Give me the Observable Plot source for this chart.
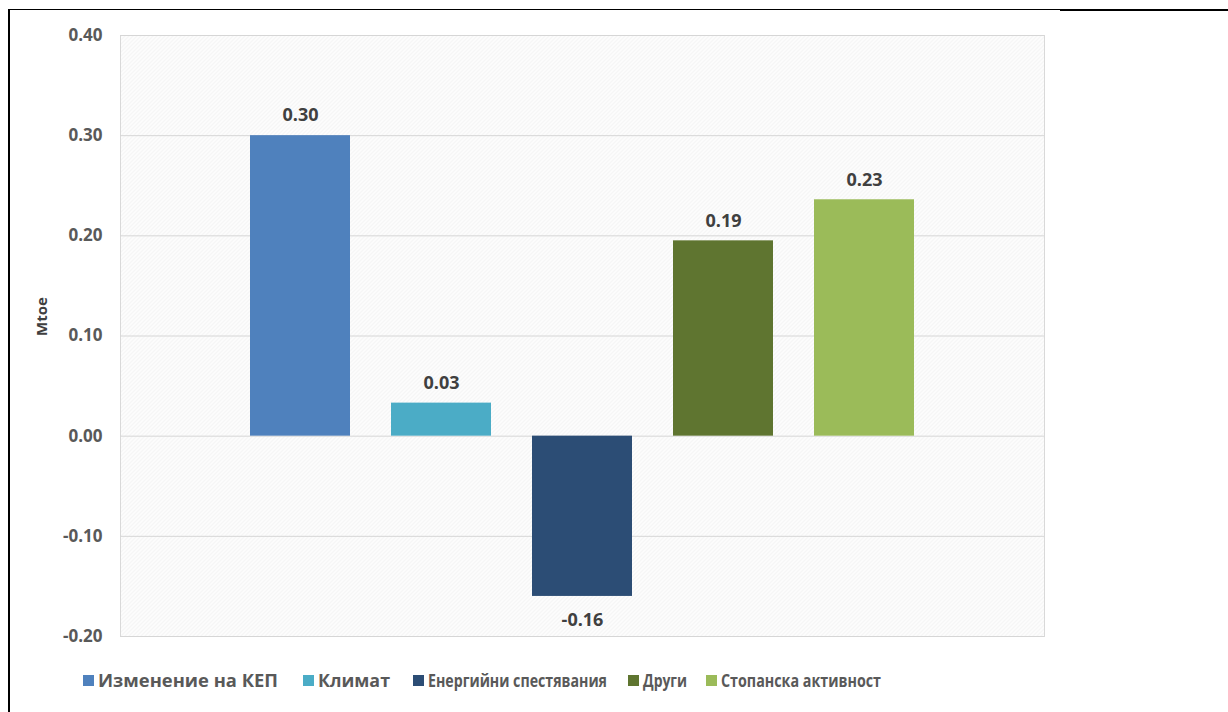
<!DOCTYPE html>
<html>
<head>
<meta charset="utf-8">
<script src="https://cdn.jsdelivr.net/npm/d3@7"></script>
<script src="https://cdn.jsdelivr.net/npm/@observablehq/plot@0.6"></script>
<style>
  html, body { margin: 0; padding: 0; background: #fff; }
  #wrap { position: relative; width: 1228px; height: 712px; overflow: hidden; font-family: "Open Sans", sans-serif; }
  #chart { position: absolute; left: 0; top: 0; }
  #legend { position: absolute; left: 0; top: 655px; }
  .line-top1 { position: absolute; left: 8px; top: 9px; width: 1052px; height: 1px; background: #000; }
  .line-top2 { position: absolute; left: 1060px; top: 9px; width: 168px; height: 2px; background: #000; }
  .line-left { position: absolute; left: 8px; top: 9px; width: 2px; height: 703px; background: #000; }
</style>
</head>
<body>
<div id="wrap">
  <div id="chart"></div>
  <svg id="legend" width="1228" height="57"></svg>
  <div class="line-top1"></div>
  <div class="line-top2"></div>
  <div class="line-left"></div>
</div>
<script>
const categories = ["Изменение на КЕП", "Климат", "Енергийни спестявания", "Други", "Стопанска активност"];
const values = [0.30, 0.033, -0.16, 0.195, 0.236];
const valueLabels = ["0.30", "0.03", "-0.16", "0.19", "0.23"];
const colors = ["#4f81bd", "#4bacc6", "#2c4d75", "#5f7530", "#9bbb59"];
const yTicks = [-0.20, -0.10, 0.00, 0.10, 0.20, 0.30, 0.40];
const yLabel = "Mtoe";

const data = categories.map((c, i) => ({category: c, value: values[i], label: valueLabels[i], color: colors[i]}));

const chart = Plot.plot({
  width: 1228,
  height: 655,
  marginLeft: 120,
  marginRight: 184,
  marginTop: 35,
  marginBottom: 19,
  style: {fontFamily: "'Open Sans', sans-serif", background: "transparent", overflow: "visible"},
  x: {domain: categories, paddingInner: 0.29, paddingOuter: 0.92, axis: null},
  y: {domain: [-0.2, 0.4], ticks: yTicks},
  marks: [
    Plot.frame({fill: "url(#bgpat)", stroke: "#d9d9d9"}),
    Plot.ruleY(yTicks, {stroke: "#d6d6d6", strokeWidth: 1}),
    Plot.barY(data, {x: "category", y: "value", fill: "color"}),
    Plot.text(data.filter(d => d.value >= 0), {
      x: "category", y: "value", text: "label", dy: -20,
      fontSize: 18, fontWeight: 700, fill: "#404040"
    }),
    Plot.text(data.filter(d => d.value < 0), {
      x: "category", y: "value", text: "label", dy: 24,
      fontSize: 18, fontWeight: 700, fill: "#404040"
    }),
    Plot.axisY({
      ticks: yTicks, tickSize: 0, tickPadding: 18,
      tickFormat: d => d.toFixed(2),
      fontSize: 17, fontWeight: 700, fill: "#595959",
      label: null
    }),
    Plot.text([yLabel], {frameAnchor: "left", dx: -78, rotate: -90, fontSize: 15, fontWeight: 700, fill: "#404040", text: d => d})
  ]
});

document.getElementById("chart").appendChild(chart);

const svg = d3.select(chart);
const defs = svg.insert("defs", ":first-child");
const pat = defs.append("pattern")
  .attr("id", "bgpat").attr("patternUnits", "userSpaceOnUse")
  .attr("width", 4).attr("height", 4);
pat.append("rect").attr("width", 4).attr("height", 4).attr("fill", "#fdfdfd");
pat.append("path").attr("d", "M-1,1 L1,-1 M0,4 L4,0 M3,5 L5,3").attr("stroke", "#efefef").attr("stroke-width", 1);

// Legend (below the plot)
const legendX = [83, 303, 413, 628, 706];
const legendW = [180, 72, 179, 44, 160];
const lg = d3.select("#legend");
categories.forEach((c, i) => {
  lg.append("rect").attr("x", legendX[i]).attr("y", 20).attr("width", 11).attr("height", 11).attr("fill", colors[i]);
  lg.append("text").attr("x", legendX[i] + 15).attr("y", 26).attr("dy", "0.36em")
    .attr("font-family", "'Open Sans', sans-serif").attr("font-weight", 700).attr("font-size", 17)
    .attr("fill", "#595959")
    .attr("textLength", legendW[i]).attr("lengthAdjust", "spacingAndGlyphs")
    .text(c);
});
</script>
</body>
</html>
